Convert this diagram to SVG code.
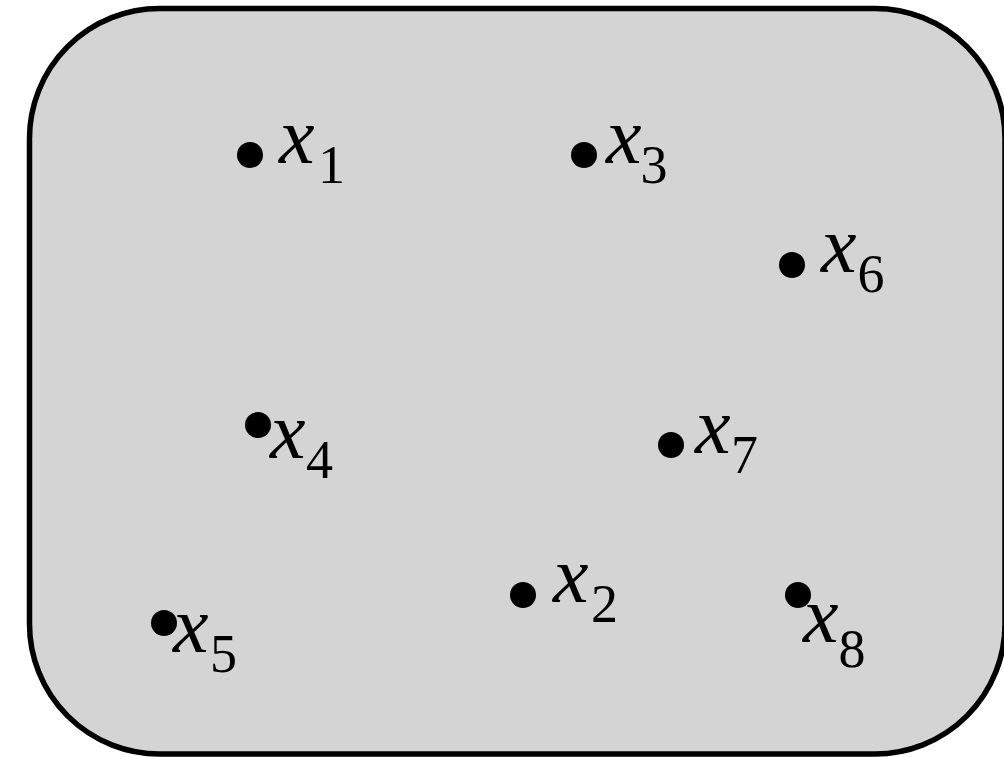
<svg xmlns="http://www.w3.org/2000/svg" width="1004" height="757" viewBox="0 0 1004 757">
<style>
.frame{fill:#d4d4d4;stroke:#000;stroke-width:5.5}
.dot{fill:#000}
.v{font-family:"Liberation Serif","Times New Roman",serif;font-style:italic;font-size:80px;fill:#000}
.s{font-style:normal;font-size:54px}
</style>
<rect class="frame" x="29.5" y="8.5" width="975.5" height="745.5" rx="130" ry="130"/>
<g id="x1"><circle class="dot" cx="250" cy="155" r="13"/><text class="v" x="279" y="163">x<tspan class="s" dx="3.5" dy="20">1</tspan></text></g>
<g id="x3"><circle class="dot" cx="584" cy="155" r="13"/><text class="v" x="606" y="163">x<tspan class="s" dx="-1" dy="20">3</tspan></text></g>
<g id="x6"><circle class="dot" cx="792" cy="265" r="13"/><text class="v" x="821" y="272">x<tspan class="s" dx="1" dy="20">6</tspan></text></g>
<g id="x4"><circle class="dot" cx="258" cy="425" r="13"/><text class="v" x="270" y="458">x<tspan class="s" dx="0.5" dy="20">4</tspan></text></g>
<g id="x7"><circle class="dot" cx="671" cy="445" r="13"/><text class="v" x="695" y="453">x<tspan class="s" dx="0.5" dy="20">7</tspan></text></g>
<g id="x2"><circle class="dot" cx="523" cy="595" r="13"/><text class="v" x="553" y="602">x<tspan class="s" dx="2.5" dy="20">2</tspan></text></g>
<g id="x5"><circle class="dot" cx="164" cy="623" r="13"/><text class="v" x="173" y="652">x<tspan class="s" dx="1.5" dy="20">5</tspan></text></g>
<g id="x8"><circle class="dot" cx="798" cy="595" r="13"/><text class="v" x="803" y="642">x<tspan class="s" dx="0" dy="25">8</tspan></text></g>
<g id="connectors"/>
</svg>
